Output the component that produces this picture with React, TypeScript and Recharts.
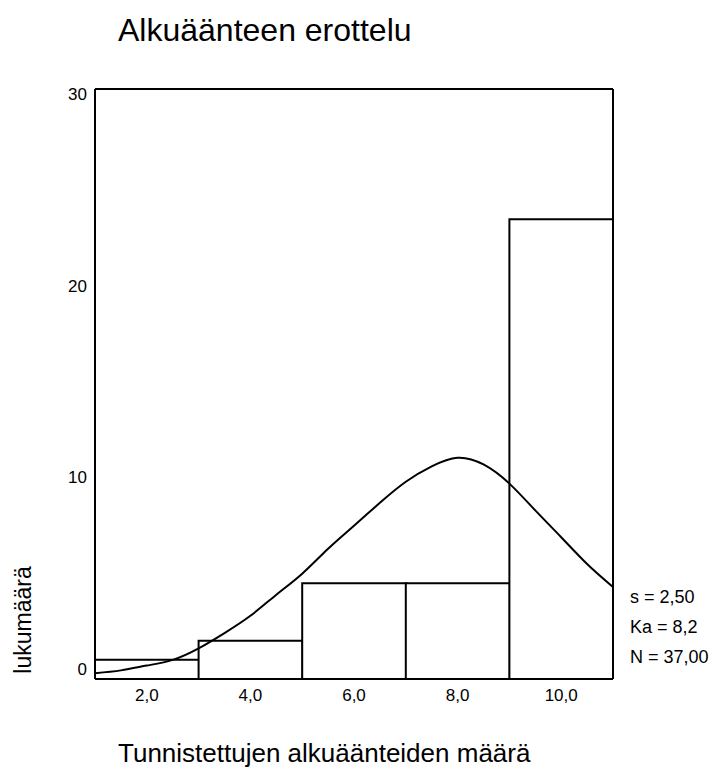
import React from 'react';
import { ComposedChart, Bar, Line, XAxis, YAxis, ReferenceLine } from 'recharts';

const binCenters = [2, 4, 6, 8, 10];
const counts = [1, 2, 5, 5, 24];
const curveX = [1, 1.5, 2, 2.5, 3, 3.5, 4, 4.5, 5, 5.5, 6, 6.5, 7, 7.5, 8, 8.5, 9, 9.5, 10, 10.5, 11];
const curveY = [0.3, 0.45, 0.7, 1.0, 1.6, 2.4, 3.3, 4.4, 5.5, 6.8, 8.0, 9.2, 10.3, 11.1, 11.55, 11.2, 10.2, 8.8, 7.4, 6.0, 4.8];
const xTicks = [2, 4, 6, 8, 10];
const yTicks = [0, 10, 20, 30];
const stats = ['s = 2,50', 'Ka = 8,2', 'N = 37,00'];

const barData = binCenters.map((x, i) => ({ x, count: counts[i] }));
const curveData = curveX.map((x, i) => ({ x, y: curveY[i] }));

const font = '"Liberation Sans", Arial, sans-serif';

const YTick = (props: any) => {
  const { x, y, payload } = props;
  return (
    <text x={x} y={y - 10} dy={6} textAnchor="end" fontFamily={font} fontSize={17} fill="#000">
      {payload.value}
    </text>
  );
};

const XTick = (props: any) => {
  const { x, y, payload } = props;
  return (
    <text x={x} y={y} dy={14} textAnchor="middle" fontFamily={font} fontSize={17} fill="#000">
      {payload.value.toFixed(1).replace('.', ',')}
    </text>
  );
};

export default function App() {
  return (
    <div style={{ position: 'absolute', left: 0, top: 0, width: 721, height: 776, background: '#fff', fontFamily: font }}>
      <div style={{ position: 'absolute', left: 118, top: 12, fontSize: 32, color: '#000', whiteSpace: 'nowrap' }}>
        Alkuäänteen erottelu
      </div>
      <ComposedChart
        width={721}
        height={776}
        data={barData}
        margin={{ top: 89, right: 108, bottom: 67, left: 0 }}
        barCategoryGap={0}
        barGap={0}
      >
        <XAxis
          dataKey="x"
          type="number"
          domain={[1, 11]}
          ticks={xTicks}
          tick={<XTick />}
          tickLine={false}
          axisLine={{ stroke: '#000', strokeWidth: 2 }}
          height={30}
          allowDataOverflow
        />
        <XAxis xAxisId="curve" dataKey="x" type="number" domain={[1, 11]} hide allowDataOverflow />
        <YAxis
          type="number"
          domain={[0, 30.8]}
          ticks={yTicks}
          tick={<YTick />}
          tickLine={false}
          axisLine={{ stroke: '#000', strokeWidth: 2 }}
          width={95}
          allowDataOverflow
        />
        <Bar dataKey="count" fill="#fff" stroke="#000" strokeWidth={2} isAnimationActive={false} />
        <Line
          xAxisId="curve"
          data={curveData}
          dataKey="y"
          type="natural"
          stroke="#000"
          strokeWidth={2}
          dot={false}
          activeDot={false}
          isAnimationActive={false}
        />
        <ReferenceLine y={30.8} stroke="#000" strokeWidth={2} />
        <ReferenceLine x={11} stroke="#000" strokeWidth={2} />
      </ComposedChart>
      {stats.map((s, i) => (
        <div key={s} style={{ position: 'absolute', left: 630, top: 587 + i * 30, fontSize: 18, color: '#000', whiteSpace: 'nowrap' }}>
          {s}
        </div>
      ))}
      <div
        style={{
          position: 'absolute',
          left: 23,
          top: 620,
          fontSize: 23,
          color: '#000',
          whiteSpace: 'nowrap',
          transform: 'translate(-50%, -50%) rotate(-90deg)',
        }}
      >
        lukumäärä
      </div>
      <div style={{ position: 'absolute', left: 118, top: 738, fontSize: 26, color: '#000', whiteSpace: 'nowrap' }}>
        Tunnistettujen alkuäänteiden määrä
      </div>
    </div>
  );
}
